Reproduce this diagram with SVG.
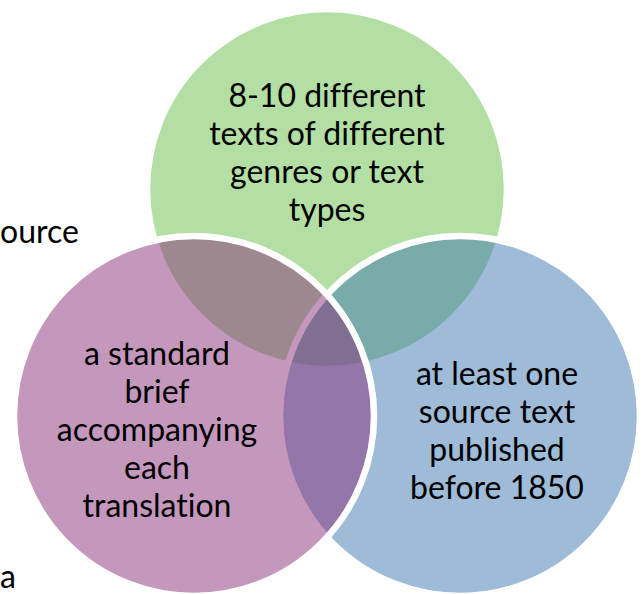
<svg xmlns="http://www.w3.org/2000/svg" width="643" height="594" viewBox="0 0 643 594">
<style>
.c{stroke:#fff;stroke-width:6.5;fill-opacity:0.5}
.t,.s{font-family:Lato,"Open Sans","Liberation Sans",sans-serif;font-size:32px;fill:#000;font-variant-ligatures:none}
.t{text-anchor:middle}
</style>
<rect width="643" height="594" fill="#fff"/>
<text class="s" x="0" y="243" font-size="30">ource</text>
<text class="s" x="0" y="588">a</text>
<g id="green"><circle class="c" cx="327" cy="189" r="180" fill="#67BF49"/></g>
<g id="blue"><circle class="c" cx="460" cy="416" r="180" fill="#3D77AF"/></g>
<g id="pink"><circle class="c" cx="194" cy="416" r="180" fill="#89317B"/></g>
<g id="labels">
<text class="t" x="327" y="107">8-10 different</text>
<text class="t" x="327" y="145">texts of different</text>
<text class="t" x="327" y="183">genres or text</text>
<text class="t" x="327" y="221">types</text>
<text class="t" x="157" y="365">a standard</text>
<text class="t" x="157" y="403">brief</text>
<text class="t" x="157" y="441">accompanying</text>
<text class="t" x="157" y="479">each</text>
<text class="t" x="157" y="517">translation</text>
<text class="t" x="497" y="385">at least one</text>
<text class="t" x="497" y="423">source text</text>
<text class="t" x="497" y="461">published</text>
<text class="t" x="497" y="499">before 1850</text>
</g>
</svg>
